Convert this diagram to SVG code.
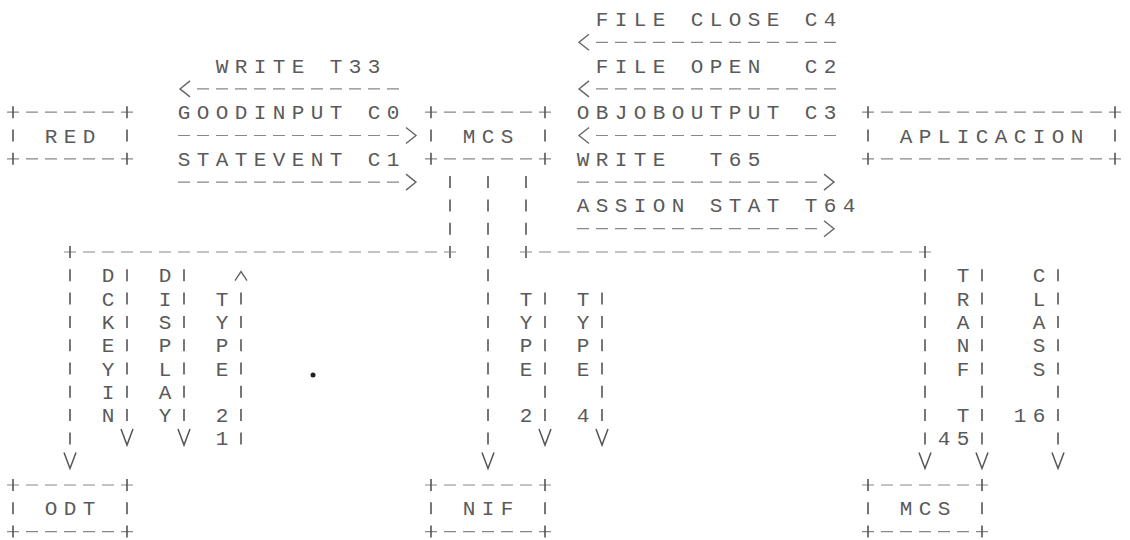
<svg xmlns="http://www.w3.org/2000/svg" width="1130" height="540" viewBox="0 0 1130 540">
<style>
.t{font-family:"Liberation Mono","DejaVu Sans Mono",monospace;font-size:21px;fill:#5a5a5a;letter-spacing:6.4px;white-space:pre}
.vt{font-family:"Liberation Mono","DejaVu Sans Mono",monospace;font-size:21px;fill:#5a5a5a;text-anchor:middle}
.h{fill:none;stroke:#888;stroke-width:1.2;stroke-dasharray:12 7}
.v{fill:none;stroke:#555;stroke-width:1.6;stroke-dasharray:12 11.3}
.ah{marker-end:url(#chevH)}
.av{marker-end:url(#chevV)}
</style>
<defs>
<marker id="chevH" markerUnits="userSpaceOnUse" viewBox="-2 -10 24 20" refX="0" refY="0" markerWidth="24" markerHeight="20" orient="auto" overflow="visible">
<path d="M7,-8 L17,0 L7,8" fill="none" stroke="#666" stroke-width="1.4"/>
</marker>
<marker id="chevV" markerUnits="userSpaceOnUse" viewBox="-2 -10 30 20" refX="0" refY="0" markerWidth="30" markerHeight="20" orient="auto" overflow="visible">
<path d="M8,-6 L24,0 L8,6" fill="none" stroke="#555" stroke-width="1.5"/>
</marker>
<marker id="caret" markerUnits="userSpaceOnUse" viewBox="-2 -10 30 20" refX="0" refY="0" markerWidth="30" markerHeight="20" orient="auto-start-reverse" overflow="visible">
<path d="M12,-6 L21,0 L12,6" fill="none" stroke="#666" stroke-width="1.4"/>
</marker>
</defs>
<rect width="1130" height="540" fill="#fff"/>

<g id="red">
<path class="h" d="M7,112.2 H133 M7,158.8 H133"/>
<path class="v" d="M13,106.2 V164.8 M127,106.2 V164.8"/>
<text class="t" x="44.7" y="142.5">RED</text>
</g>
<g id="mcs">
<path class="h" d="M425,112.2 H551 M425,158.8 H551"/>
<path class="v" d="M431,106.2 V164.8 M545,106.2 V164.8"/>
<text class="t" x="462.7" y="142.5">MCS</text>
</g>
<g id="aplicacion">
<path class="h" d="M862,112.2 H1121 M862,158.8 H1121"/>
<path class="v" d="M868,106.2 V164.8 M1115,106.2 V164.8"/>
<text class="t" x="899.7" y="142.5">APLICACION</text>
</g>
<g id="odt">
<path class="h" d="M7,485 H133 M7,531.6 H133"/>
<path class="v" d="M13,479 V537.6 M127,479 V537.6"/>
<text class="t" x="44.7" y="515.3">ODT</text>
</g>
<g id="nif">
<path class="h" d="M425,485 H551 M425,531.6 H551"/>
<path class="v" d="M431,479 V537.6 M545,479 V537.6"/>
<text class="t" x="462.7" y="515.3">NIF</text>
</g>
<g id="mcs2">
<path class="h" d="M862,485 H988 M862,531.6 H988"/>
<path class="v" d="M868,479 V537.6 M982,479 V537.6"/>
<text class="t" x="899.7" y="515.3">MCS</text>
</g>

<g id="connectors">
<path class="h ah" d="M399,88.9 H197"/>
<path class="h ah" d="M178,135.5 H399"/>
<path class="h ah" d="M178,182.1 H399"/>
<path class="h ah" d="M836,42.3 H596"/>
<path class="h ah" d="M836,88.9 H596"/>
<path class="h ah" d="M836,135.5 H596"/>
<path class="h ah" d="M577,182.1 H817"/>
<path class="h ah" d="M577,228.7 H817"/>
<path class="v" d="M450,176.1 V258"/>
<path class="v" d="M526,176.1 V258"/>
<path class="h" d="M64,252 H456"/>
<path class="h" d="M520,252 H931"/>
<path class="v av" d="M70,246 V444.4"/>
<path class="v av" d="M488,176.1 V444.4"/>
<path class="v av" d="M925,246 V444.4"/>
<path class="v av" d="M127,269.3 V421.1"/>
<path class="v av" d="M184,269.3 V421.1"/>
<path class="v" style="marker-start:url(#caret)" d="M241,292.6 V444.4"/>
<path class="v av" d="M545,292.6 V421.1"/>
<path class="v av" d="M602,292.6 V421.1"/>
<path class="v av" d="M982,269.3 V444.4"/>
<path class="v av" d="M1058,269.3 V444.4"/>
</g>

<g id="labels">
<text class="t" x="595.7" y="26">FILE CLOSE C4</text>
<text class="t" x="595.7" y="72.6">FILE OPEN  C2</text>
<text class="t" x="576.7" y="119.2">OBJOBOUTPUT C3</text>
<text class="t" x="576.7" y="165.8">WRITE  T65</text>
<text class="t" x="576.7" y="212.4">ASSION STAT T64</text>
<text class="t" x="215.7" y="72.6">WRITE T33</text>
<text class="t" x="177.7" y="119.2">GOODINPUT C0</text>
<text class="t" x="177.7" y="165.8">STATEVENT C1</text>

<text class="vt"><tspan x="108" y="282.3">D</tspan><tspan x="108" y="305.6">C</tspan><tspan x="108" y="328.9">K</tspan><tspan x="108" y="352.2">E</tspan><tspan x="108" y="375.5">Y</tspan><tspan x="108" y="398.8">I</tspan><tspan x="108" y="422.1">N</tspan></text>
<text class="vt"><tspan x="165" y="282.3">D</tspan><tspan x="165" y="305.6">I</tspan><tspan x="165" y="328.9">S</tspan><tspan x="165" y="352.2">P</tspan><tspan x="165" y="375.5">L</tspan><tspan x="165" y="398.8">A</tspan><tspan x="165" y="422.1">Y</tspan></text>
<text class="vt"><tspan x="222" y="305.6">T</tspan><tspan x="222" y="328.9">Y</tspan><tspan x="222" y="352.2">P</tspan><tspan x="222" y="375.5">E</tspan><tspan x="222" y="422.1">2</tspan><tspan x="222" y="445.4">1</tspan></text>
<text class="vt"><tspan x="526" y="305.6">T</tspan><tspan x="526" y="328.9">Y</tspan><tspan x="526" y="352.2">P</tspan><tspan x="526" y="375.5">E</tspan><tspan x="526" y="422.1">2</tspan></text>
<text class="vt"><tspan x="583" y="305.6">T</tspan><tspan x="583" y="328.9">Y</tspan><tspan x="583" y="352.2">P</tspan><tspan x="583" y="375.5">E</tspan><tspan x="583" y="422.1">4</tspan></text>
<text class="vt"><tspan x="963" y="282.3">T</tspan><tspan x="963" y="305.6">R</tspan><tspan x="963" y="328.9">A</tspan><tspan x="963" y="352.2">N</tspan><tspan x="963" y="375.5">F</tspan><tspan x="963" y="422.1">T</tspan><tspan x="944" y="445.4">4</tspan><tspan x="963" y="445.4">5</tspan></text>
<text class="vt"><tspan x="1039" y="282.3">C</tspan><tspan x="1039" y="305.6">L</tspan><tspan x="1039" y="328.9">A</tspan><tspan x="1039" y="352.2">S</tspan><tspan x="1039" y="375.5">S</tspan><tspan x="1020" y="422.1">1</tspan><tspan x="1039" y="422.1">6</tspan></text>
</g>
<circle cx="313" cy="375" r="2.5" fill="#222"/>
</svg>
